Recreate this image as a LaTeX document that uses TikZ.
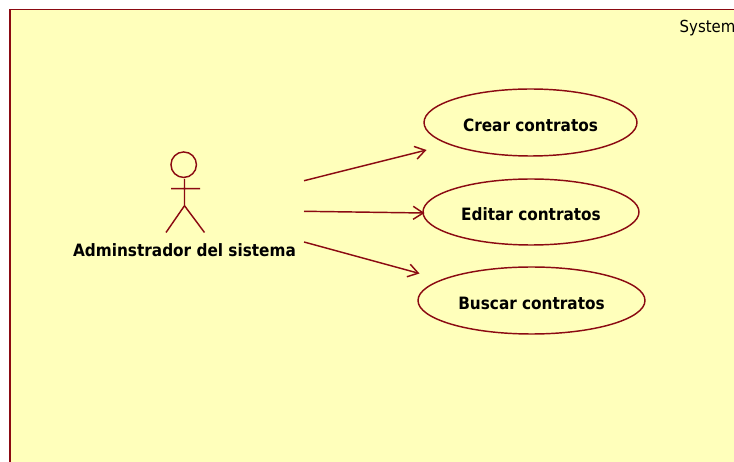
\documentclass[tikz,border=0pt]{standalone}
\usepackage{fontspec}
\setmainfont{DejaVu Sans}
\newfontfamily\lab{DejaVu Sans Condensed}
\usetikzlibrary{shapes.geometric,arrows.meta}
\definecolor{umlline}{HTML}{8B0A12}
\definecolor{umlfill}{HTML}{FFFFBB}
\tikzset{
  uline/.style={draw=umlline,line width=1.45pt},
  usecase/.style={uline,ellipse,inner sep=0pt,outer sep=0pt,font=\lab\bfseries\fontsize{17}{19}\selectfont,text=black},
  assoc/.style={uline,-{Straight Barb[length=10pt,width=13pt,line width=1.45pt]}},
}
\begin{document}
\begin{tikzpicture}[x=1pt,y=-1pt]
\useasboundingbox (0,0) rectangle (734,462);
\clip (0,0) rectangle (734,462);
\fill[white] (0,0) rectangle (734,462);
\draw[uline,fill=umlfill] (10,9.5) rectangle (760,490);
\node[anchor=west,inner sep=0pt,font=\lab\fontsize{16.6}{18}\selectfont,text=black] (sys) at (679.5,28.5) {System};
\node[uline,circle,inner sep=0pt,minimum size=25.5pt,outer sep=0pt] (head) at (183.7,164.7) {};
\coordinate (hip) at (184.5,205.7);
\coordinate (neck) at (184.5,179);
\coordinate (armL) at (171,188.7);
\coordinate (armR) at (200,188.7);
\coordinate (legL) at (166,232.5);
\coordinate (legR) at (204.5,232.5);
\draw[uline] (neck) -- (hip) (armL) -- (armR) (legL) -- (hip) -- (legR);
\node[font=\lab\bfseries\fontsize{17}{19}\selectfont,text=black,inner sep=0pt] (actor) at (184.5,250.5) {Adminstrador del sistema};
\node[usecase,minimum width=213pt,minimum height=67pt] (uc1) at (530.5,122.5) {\raisebox{-9.5pt}[0pt][0pt]{Crear contratos}};
\node[usecase,minimum width=216pt,minimum height=66pt] (uc2) at (531,212) {\raisebox{-9pt}[0pt][0pt]{Editar contratos}};
\node[usecase,minimum width=227pt,minimum height=67pt] (uc3) at (531.5,300.5) {\raisebox{-9.5pt}[0pt][0pt]{Buscar contratos}};
\coordinate (s1) at (304,180.7);
\coordinate (s2) at (304,211.3);
\coordinate (s3) at (304,242);
\draw[assoc] (s1) -- ([shift={(2.5,27.5)}]uc1.west);
\draw[assoc] (s2) -- ([shift={(1.5,1)}]uc2.west);
\draw[assoc] (s3) -- ([shift={(1.5,-27)}]uc3.west);
\end{tikzpicture}
\end{document}
